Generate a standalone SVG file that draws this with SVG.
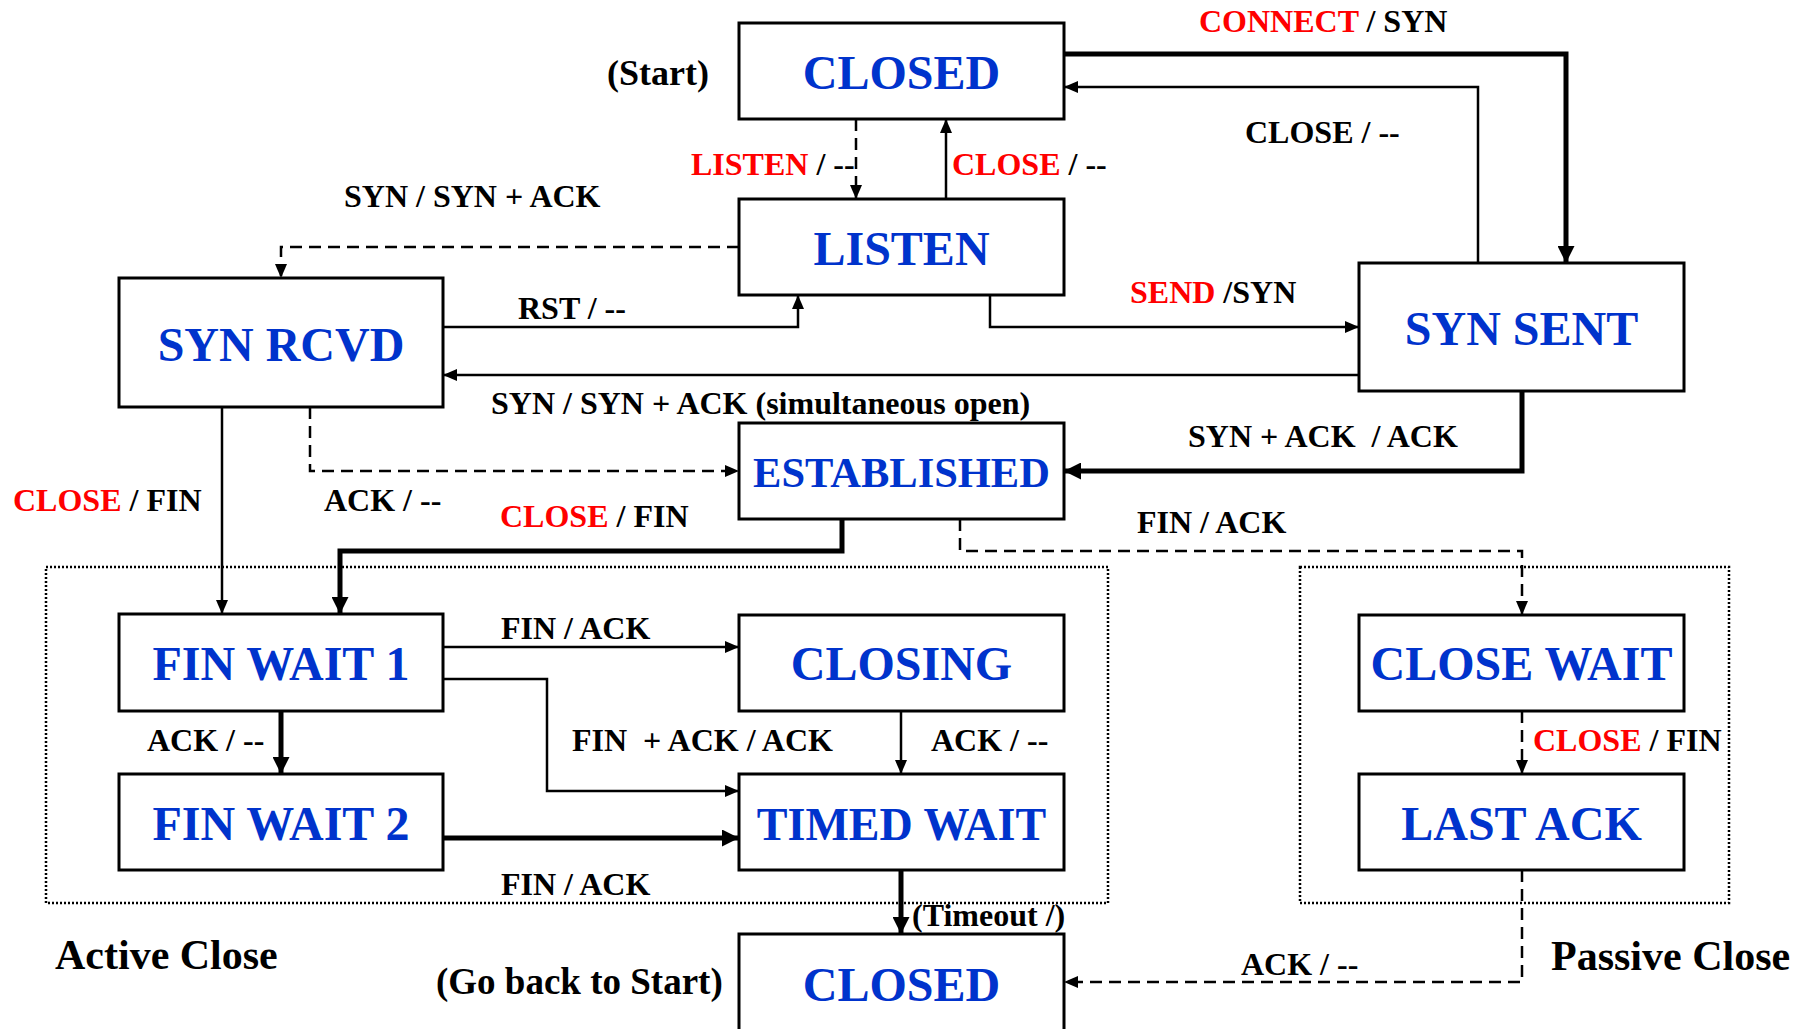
<svg xmlns="http://www.w3.org/2000/svg" width="1808" height="1029" viewBox="0 0 1808 1029">
<style>
.box{fill:#fff;stroke:#000;stroke-width:3}
.st{font-family:"Liberation Serif","Times New Roman",serif;font-weight:bold;font-size:48px;fill:#0033CC;text-anchor:middle}
.lb{font-family:"Liberation Serif","Times New Roman",serif;font-weight:bold;font-size:32px;fill:#000}
.big{font-size:42px}
.r{fill:#FF0000}
.thin{fill:none;stroke:#000;stroke-width:2.5;marker-end:url(#ah)}
.dash{fill:none;stroke:#000;stroke-width:2.5;stroke-dasharray:12 7;marker-end:url(#ah)}
.thick{fill:none;stroke:#000;stroke-width:5;marker-end:url(#ahb)}
.region{fill:none;stroke:#000;stroke-width:2.5;stroke-dasharray:2 2}
</style>
<defs>
<marker id="ah" markerUnits="userSpaceOnUse" markerWidth="14" markerHeight="12" refX="14" refY="6" orient="auto"><path d="M0,0 L14,6 L0,12 z" fill="#000"/></marker>
<marker id="ahb" markerUnits="userSpaceOnUse" markerWidth="17" markerHeight="17" refX="17" refY="8.5" orient="auto"><path d="M0,0 L17,8.5 L0,17 z" fill="#000"/></marker>
</defs>
<rect width="1808" height="1029" fill="#fff"/>
<rect class="region" x="46" y="567" width="1062" height="336"/>
<rect class="region" x="1300" y="567" width="429" height="336"/>
<g id="connectors">
<path class="thick" d="M1064,54 H1566 V263"/>
<path class="thin" d="M1478,263 V87 H1064"/>
<path class="dash" d="M856,119 V199"/>
<path class="thin" d="M946,199 V119"/>
<path class="dash" d="M739,247 H281 V278"/>
<path class="thin" d="M443,327 H798 V295"/>
<path class="thin" d="M990,295 V327 H1359"/>
<path class="thin" d="M1359,375 H443"/>
<path class="thick" d="M1522,391 V471 H1064"/>
<path class="dash" d="M310,407 V471 H739"/>
<path class="thin" d="M222,407 V614"/>
<path class="thick" d="M842,519 V551 H340 V614"/>
<path class="dash" d="M960,519 V551 H1522 V615"/>
<path class="thin" d="M443,647 H739"/>
<path class="thin" d="M443,679 H547 V791 H739"/>
<path class="thick" d="M281,711 V774"/>
<path class="thin" d="M901,711 V774"/>
<path class="thick" d="M443,838 H739"/>
<path class="thick" d="M901,870 V934"/>
<path class="dash" d="M1522,711 V774"/>
<path class="dash" d="M1522,870 V982 H1064"/>
</g>
<g id="closed-start"><rect class="box" x="739" y="23" width="325" height="96"/><text class="st" x="901.5" y="89">CLOSED</text></g>
<g id="listen"><rect class="box" x="739" y="199" width="325" height="96"/><text class="st" x="901.5" y="265">LISTEN</text></g>
<g id="syn-rcvd"><rect class="box" x="119" y="278" width="324" height="129"/><text class="st" x="281" y="361">SYN RCVD</text></g>
<g id="syn-sent"><rect class="box" x="1359" y="263" width="325" height="128"/><text class="st" x="1521.5" y="345">SYN SENT</text></g>
<g id="established"><rect class="box" x="739" y="423" width="325" height="96"/><text class="st" x="901.5" y="487" style="font-size:42.5px">ESTABLISHED</text></g>
<g id="fin-wait-1"><rect class="box" x="119" y="614" width="324" height="97"/><text class="st" x="281" y="680">FIN WAIT 1</text></g>
<g id="closing"><rect class="box" x="739" y="615" width="325" height="96"/><text class="st" x="901.5" y="680">CLOSING</text></g>
<g id="fin-wait-2"><rect class="box" x="119" y="774" width="324" height="96"/><text class="st" x="281" y="840">FIN WAIT 2</text></g>
<g id="timed-wait"><rect class="box" x="739" y="774" width="325" height="96"/><text class="st" x="901.5" y="840" style="font-size:46px">TIMED WAIT</text></g>
<g id="close-wait"><rect class="box" x="1359" y="615" width="325" height="96"/><text class="st" x="1521.5" y="680">CLOSE WAIT</text></g>
<g id="last-ack"><rect class="box" x="1359" y="774" width="325" height="96"/><text class="st" x="1521.5" y="840">LAST ACK</text></g>
<g id="closed-end"><rect class="box" x="739" y="934" width="325" height="110"/><text class="st" x="901.5" y="1001">CLOSED</text></g>
<g id="labels">
<text class="lb" x="607" y="85" style="font-size:36px">(Start)</text>
<text class="lb" x="1199" y="32"><tspan class="r">CONNECT</tspan> / SYN</text>
<text class="lb" x="1245" y="143">CLOSE / --</text>
<text class="lb" x="691" y="175"><tspan class="r">LISTEN</tspan> / --</text>
<text class="lb" x="952" y="175"><tspan class="r">CLOSE</tspan> / --</text>
<text class="lb" x="344" y="207">SYN / SYN + ACK</text>
<text class="lb" x="518" y="319">RST / --</text>
<text class="lb" x="1130" y="303"><tspan class="r">SEND</tspan> /SYN</text>
<text class="lb" x="491" y="414">SYN / SYN + ACK (simultaneous open)</text>
<text class="lb" x="1188" y="447" xml:space="preserve">SYN + ACK  / ACK</text>
<text class="lb" x="13" y="511"><tspan class="r">CLOSE</tspan> / FIN</text>
<text class="lb" x="324" y="511">ACK / --</text>
<text class="lb" x="500" y="527"><tspan class="r">CLOSE</tspan> / FIN</text>
<text class="lb" x="1137" y="533">FIN / ACK</text>
<text class="lb" x="501" y="639">FIN / ACK</text>
<text class="lb" x="147" y="751">ACK / --</text>
<text class="lb" x="572" y="751" xml:space="preserve">FIN  + ACK / ACK</text>
<text class="lb" x="931" y="751">ACK / --</text>
<text class="lb" x="1533" y="751"><tspan class="r">CLOSE</tspan> / FIN</text>
<text class="lb" x="501" y="895">FIN / ACK</text>
<text class="lb" x="912" y="926">(Timeout /)</text>
<text class="lb" x="1241" y="975">ACK / --</text>
<text class="lb big" x="55" y="969">Active Close</text>
<text class="lb big" x="1551" y="970">Passive Close</text>
<text class="lb" x="436" y="994" style="font-size:37px">(Go back to Start)</text>
</g>
</svg>
